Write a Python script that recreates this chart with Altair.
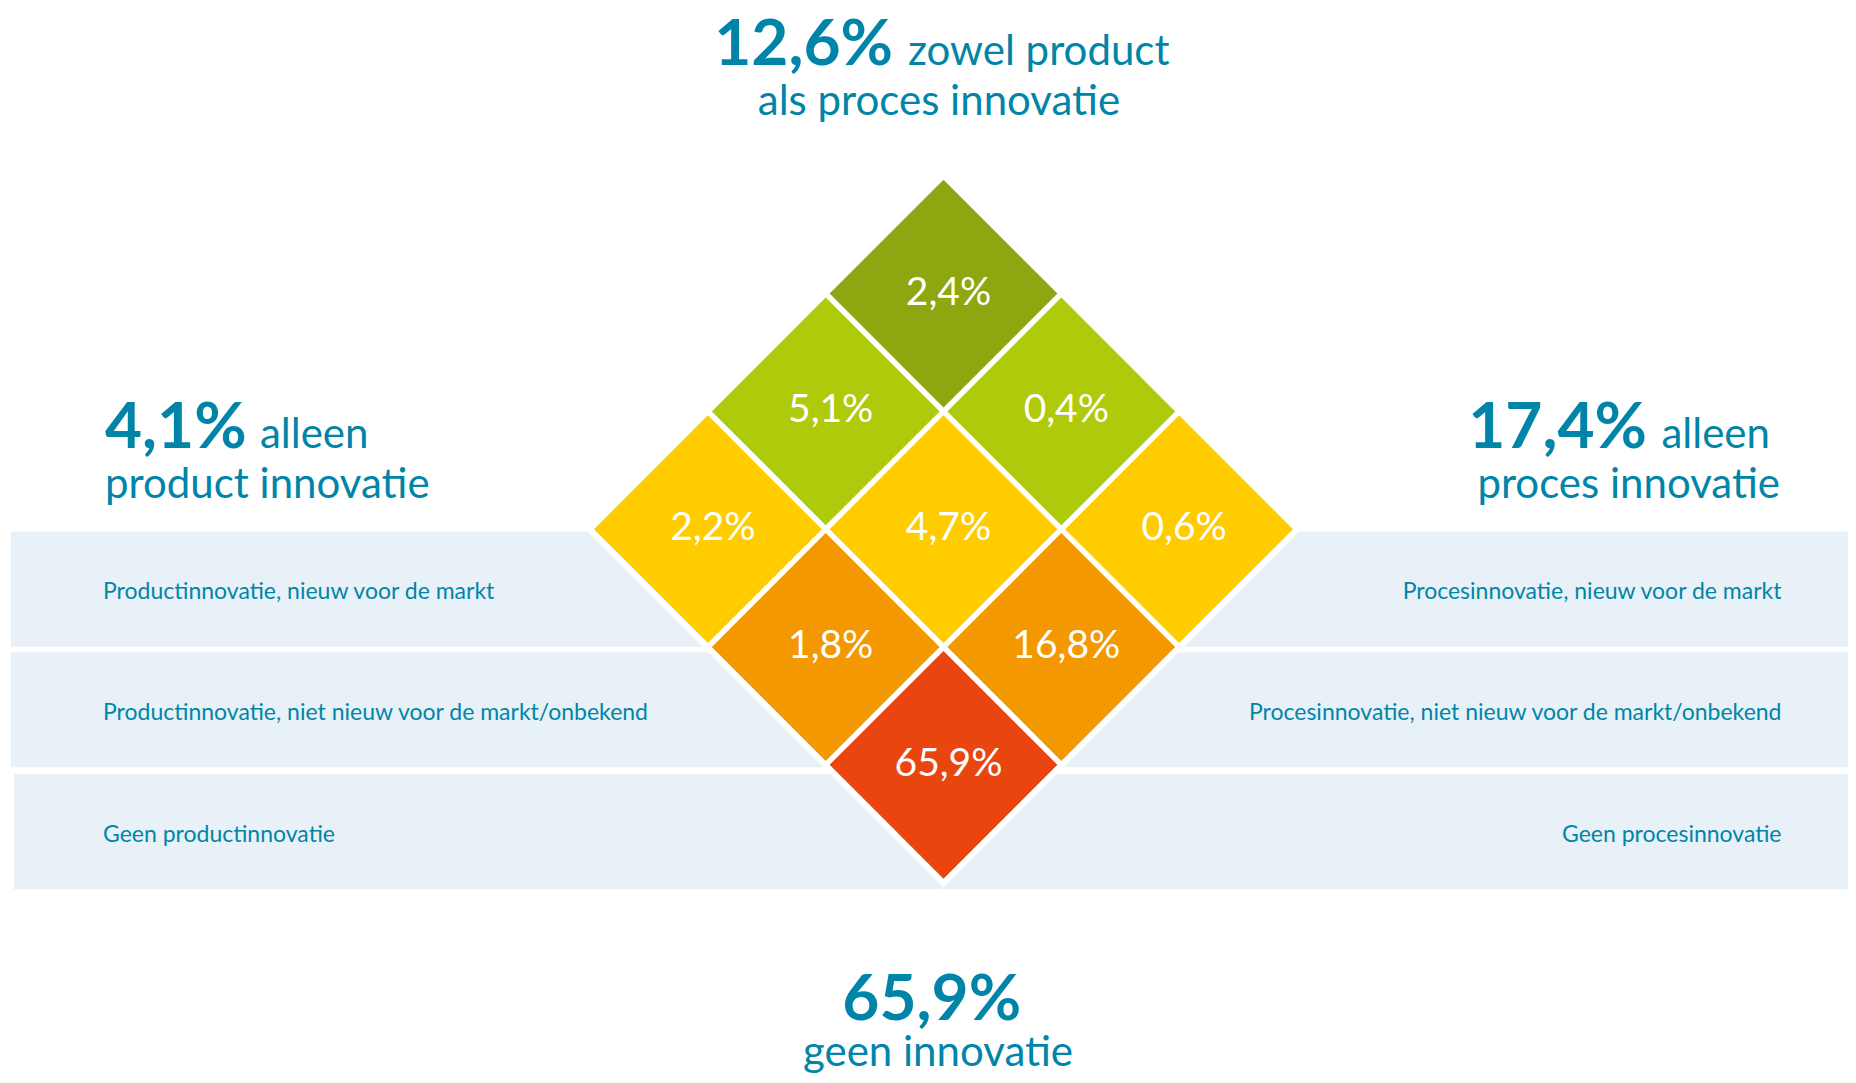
import altair as alt
import pandas as pd

# ---------------- data ----------------
product_labels = [
    "Productinnovatie, nieuw voor de markt",
    "Productinnovatie, niet nieuw voor de markt/onbekend",
    "Geen productinnovatie",
]
process_labels = [
    "Procesinnovatie, nieuw voor de markt",
    "Procesinnovatie, niet nieuw voor de markt/onbekend",
    "Geen procesinnovatie",
]
# share of firms (%), product level x process level (0 = nieuw, 1 = niet nieuw/onbekend, 2 = geen)
cell_product = [0, 0, 0, 1, 1, 1, 2, 2, 2]
cell_process = [0, 1, 2, 0, 1, 2, 0, 1, 2]
cell_share = [2.4, 5.1, 2.2, 0.4, 4.7, 1.8, 0.6, 16.8, 65.9]

summary_share = [12.6, 4.1, 17.4, 65.9]
summary_word = ["zowel product", "alleen", "alleen", ""]
summary_line2 = ["als proces innovatie", "product innovatie", "proces innovatie", "geen innovatie"]

ring_colors = ["#8EA60F", "#AFCA0B", "#FFCC00", "#F39800", "#E8450F"]


def fmt(v):
    return f"{v:.1f}".replace(".", ",") + "%"


# ---------------- layout ----------------
W, H = 1840, 1067
CX, CY = 935.5, 521.2      # pixel centre of the diamond grid
U = 117.8                  # pixel size of one grid step
D = 227.8                  # diagonal of one diamond
D_OUT = 716                # white halo around the whole diamond
FONT = "Lato"
TEAL = "#0085A8"
BAND = "#E8F1F7"
band_top = [2.02, 3.045, 4.08]
band_bot = [2.997, 4.02, 5.057]
band_left_px = [3, 3, 6]

x_dom = [-CX / U, (W - CX) / U]
y_dom = [2 - CY / U, 2 + (H - CY) / U]
xs = alt.Scale(domain=x_dom, nice=False, zero=False)
ys = alt.Scale(domain=y_dom, nice=False, zero=False, reverse=True)

cells = pd.DataFrame({
    "product": cell_product,
    "process": cell_process,
    "share": cell_share,
})
cells["col"] = cells["product"] - cells["process"]
cells["row"] = cells["product"] + cells["process"]
cells["ring"] = cells["row"]
cells["label"] = cells["share"].map(fmt)

centre = pd.DataFrame({"col": [cells["col"].mean()], "row": [cells["row"].mean()]})

band_rows = []
for k in range(3):
    band_rows.append({"side": "left", "x0": (band_left_px[k] - CX) / U, "x1": 0.0,
                      "y0": band_top[k], "y1": band_bot[k],
                      "ymid": (band_top[k] + band_bot[k]) / 2, "text": product_labels[k]})
    band_rows.append({"side": "right", "x0": 0.0, "x1": x_dom[1],
                      "y0": band_top[k], "y1": band_bot[k],
                      "ymid": (band_top[k] + band_bot[k]) / 2, "text": process_labels[k]})
bands = pd.DataFrame(band_rows)

X = lambda f: alt.X(f, scale=xs, axis=None)
Y = lambda f: alt.Y(f, scale=ys, axis=None)

band_layer = alt.Chart(bands).mark_rect(color=BAND).encode(
    x=X("x0:Q"), x2="x1:Q", y=Y("y0:Q"), y2="y1:Q"
)
band_text_left = alt.Chart(bands).transform_filter("datum.side == 'left'").mark_text(
    align="left", baseline="middle", font=FONT, fontSize=23, color=TEAL, dy=3
).encode(x=alt.value(95), y=Y("ymid:Q"), text="text:N")
band_text_right = alt.Chart(bands).transform_filter("datum.side == 'right'").mark_text(
    align="right", baseline="middle", font=FONT, fontSize=23, color=TEAL, dy=3
).encode(x=alt.value(1773.5), y=Y("ymid:Q"), text="text:N")

halo = alt.Chart(centre).mark_point(
    shape="diamond", filled=True, color="white", opacity=1, size=D_OUT * D_OUT, strokeWidth=0
).encode(x=X("col:Q"), y=Y("row:Q"))

diamonds = alt.Chart(cells).mark_point(
    shape="diamond", filled=True, opacity=1, size=D * D, strokeWidth=0
).encode(
    x=X("col:Q"), y=Y("row:Q"),
    color=alt.Color("ring:O", scale=alt.Scale(domain=[0, 1, 2, 3, 4], range=ring_colors), legend=None),
)
diamond_text = alt.Chart(cells).mark_text(
    color="white", font=FONT, fontSize=39, fontWeight="normal", dx=5, dy=-1, baseline="middle"
).encode(x=X("col:Q"), y=Y("row:Q"), text="label:N")

# summary annotations: (text, x px, y px, align, bold?)
ann_specs = [
    (fmt(summary_share[0]), 885, 57, "right", True),
    (summary_word[0], 900, 57, "left", False),
    (summary_line2[0], 931, 107, "center", False),
    (fmt(summary_share[1]), 97, 440.3, "left", True),
    (summary_word[1], 252, 440.3, "left", False),
    (summary_line2[1], 97, 490.3, "left", False),
    (fmt(summary_share[2]), 1639, 440.3, "right", True),
    (summary_word[2], 1762, 440.3, "right", False),
    (summary_line2[2], 1772, 490.3, "right", False),
    (fmt(summary_share[3]), 923.7, 1012, "center", True),
    (summary_line2[3], 930, 1058, "center", False),
]
ann_layers = []
for txt, px, py, al, bold in ann_specs:
    ann_layers.append(
        alt.Chart(pd.DataFrame({"t": [txt]})).mark_text(
            align=al, baseline="alphabetic", font=FONT,
            fontSize=64 if bold else 42, fontWeight="bold" if bold else "normal", color=TEAL
        ).encode(x=alt.value(px), y=alt.value(py), text="t:N")
    )

chart = alt.layer(
    band_layer, band_text_left, band_text_right, halo, diamonds, diamond_text, *ann_layers
).properties(
    width=W, height=H, padding=0, autosize=alt.AutoSizeParams(type="none"), background="white"
).configure_view(stroke=None)

chart.save("out.html", embed_options={"renderer": "svg", "actions": False})
